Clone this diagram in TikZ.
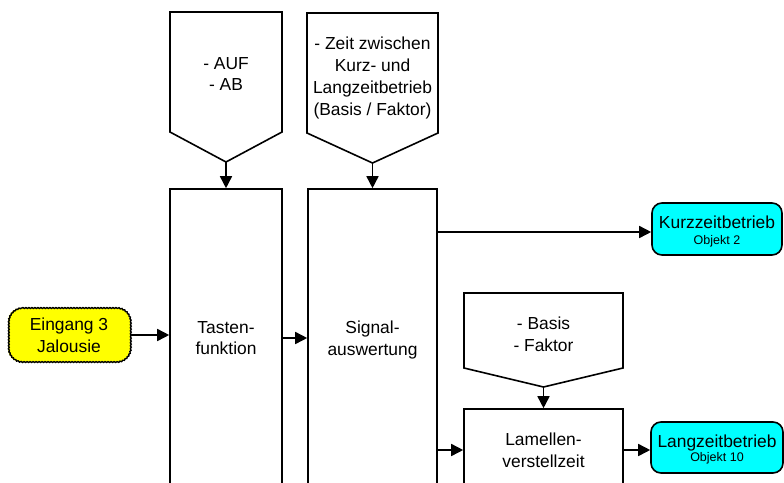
\documentclass[tikz,border=0pt]{standalone}
\usepackage{fontspec}
\setmainfont{Liberation Sans}
\usetikzlibrary{arrows.meta,decorations.pathmorphing}
\definecolor{outcyan}{RGB}{0,255,255}
\definecolor{inyellow}{RGB}{255,255,0}

\begin{document}
\begin{tikzpicture}[x=1pt,y=-1pt,
  box/.style={draw, line width=1.6pt, align=center, inner sep=0pt, font=\fontsize{17.4}{21.7}\selectfont},
  note/.style={align=center, inner sep=0pt, font=\fontsize{17.4}{21.7}\selectfont},
  outbox/.style={draw, line width=1.6pt, rounded corners=10pt, fill=outcyan, align=center, inner sep=0pt, font=\fontsize{17.4}{16}\selectfont},
  inbox/.style={fill=inyellow, rounded corners=13pt, align=center, inner sep=0pt, font=\fontsize{17.4}{21.7}\selectfont},
  wavy/.style={line width=1.4pt, decorate, decoration={snake, amplitude=0.45pt, segment length=3pt}},
  pent/.style={draw, line width=1.6pt, line join=miter},
  flow/.style={line width=1.6pt, -{Triangle[length=12pt,width=12pt]}}]
\useasboundingbox (0,0) rectangle (784,482);
\clip (0,0) rectangle (784,482);

% parameter boxes
\path[pent] (170,12) -- (282,12) -- (282,132) -- (226,162) -- (170,132) -- cycle;
\coordinate (auftip) at (226,162);
\node[note] (auf) at (226,74) {- AUF\\- AB};
\path[pent] (307,13) -- (438,13) -- (438,133) -- (372.5,163) -- (307,133) -- cycle;
\coordinate (zeittip) at (372.5,163);
\node[note] (zeit) at (372.5,78) {- Zeit zwischen\\Kurz- und\\Langzeitbetrieb\\(Basis / Faktor)};
\path[pent] (464,293) -- (623,293) -- (623,368) -- (543.5,387) -- (464,368) -- cycle;
\coordinate (basistip) at (543.5,387);
\node[note] (basis) at (543.5,334) {- Basis\\- Faktor};

% input
\node[inbox, minimum width=122pt, minimum height=54pt] (eingang) at (69,335) {Eingang 3\\Jalousie};
\draw[wavy] (22,308) -- (116,308) arc(270:360:14) -- (130,348) arc(0:90:14)
  -- (22,362) arc(90:180:14) -- (8,322) arc(180:270:14) -- cycle;

% main blocks
\node[box, minimum width=112pt, minimum height=298pt] (taste) at (226,338) {Tasten-\\funktion};
\node[box, minimum width=129pt, minimum height=302pt] (signal) at (372.5,340) {Signal-\\auswertung};
\node[box, minimum width=159pt, minimum height=82pt] (lamelle) at (543.5,450) {Lamellen-\\verstellzeit};

% outputs
\node[outbox, minimum width=130pt, minimum height=52pt] (kurz) at (717,229)
  {\rule{0pt}{18.5pt}Kurzzeitbetrieb\\{\fontsize{12.5}{14}\selectfont Objekt 2}};
\node[outbox, minimum width=132pt, minimum height=51pt] (lang) at (717,447.5)
  {\rule{0pt}{17.5pt}Langzeitbetrieb\\[-2pt]{\fontsize{12.5}{14}\selectfont Objekt 10}};

% connections
\draw[flow] (auftip) -- (taste.north);
\draw[flow] (zeittip) -- (signal.north);
\draw[flow] (basistip) -- (lamelle.north);
\draw[flow] (eingang) -- (eingang -| taste.west);
\draw[flow] (taste.east) -- (signal.west |- taste.east);
\draw[flow] (signal.east |- 0,232) -- (kurz.west |- 0,232);
\draw[flow] (signal.east |- lamelle.west) -- (lamelle.west);
\draw[flow] (lamelle.east) -- (lang.west |- lamelle.east);
\end{tikzpicture}
\end{document}
